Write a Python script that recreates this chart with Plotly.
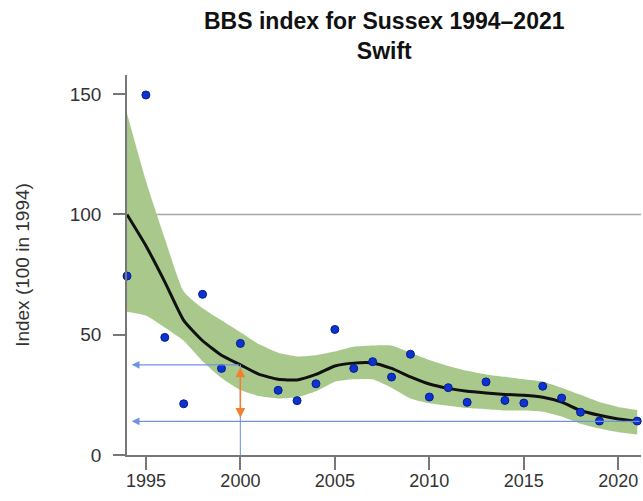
import plotly.graph_objects as go

years = list(range(1994, 2022))

# annual index values (None = no survey)
index_points = [74.4, 149.7, 48.9, 21.3, 66.8, 36.0, 46.4, None, 26.9, 22.6,
                29.6, 52.2, 36.0, 38.8, 32.4, 41.9, 24.1, 28.0, 21.9, 30.4,
                22.7, 21.6, 28.6, 23.7, 17.8, 14.1, None, 14.1]

# smoothed trend
trend = [100, 87, 72, 56, 47.5, 41.5, 37.5, 33.5, 31.5, 31.2,
         33.5, 37, 38.2, 38.3, 36, 32.5, 29.5, 27.7, 26.5, 25.8,
         25.2, 24.8, 24, 22, 18.5, 16.5, 15, 14]

upper = [142, 114, 90, 68, 61, 56, 51, 46, 42.5, 41,
         41.5, 43, 45, 45.5, 45.5, 42.5, 39.5, 37, 35, 33.5,
         32.5, 31.5, 30.5, 28, 25, 22, 20, 18.7]

lower = [59.6, 58, 53, 47.5, 39, 32, 27, 24.5, 23.5, 24,
         26.5, 30.5, 31.5, 31.5, 28, 23.5, 21.5, 20.5, 19.5, 19,
         18.5, 18.5, 18, 16, 13, 11, 9.5, 8.5]

x_ticks = [1995, 2000, 2005, 2010, 2015, 2020]
y_ticks = [0, 50, 100, 150]

ref_year = 2000
t_ref = trend[years.index(ref_year)]
t_last = trend[-1]

FONT = "Liberation Sans, Arial, sans-serif"
X_MIN, X_MAX = 1994, 2021.2
Y_MIN, Y_MAX = 0, 158

fig = go.Figure()

fig.add_trace(go.Scatter(x=years, y=upper, mode="lines",
                         line=dict(width=0, color="#a9c98c", shape="spline", smoothing=0.5),
                         hoverinfo="skip", showlegend=False))
fig.add_trace(go.Scatter(x=years, y=lower, mode="lines", fill="tonexty",
                         fillcolor="#a9c98c",
                         line=dict(width=0, color="#a9c98c", shape="spline", smoothing=0.5),
                         hoverinfo="skip", showlegend=False))
fig.add_trace(go.Scatter(x=years, y=trend, mode="lines",
                         line=dict(width=3, color="#111111", shape="spline", smoothing=0.5),
                         showlegend=False))
fig.add_trace(go.Scatter(x=years, y=index_points, mode="markers", cliponaxis=False,
                         marker=dict(size=8, color="#0b33d1",
                                     line=dict(width=1, color="#0a1c8a")),
                         showlegend=False))

# reference line at 100
fig.add_shape(type="line", xref="paper", x0=0, x1=1, yref="y", y0=100, y1=100,
              line=dict(color="#a8a8a8", width=1.5), layer="below")

# vertical blue line at reference year
fig.add_shape(type="line", xref="x", x0=ref_year, x1=ref_year, yref="y",
              y0=0, y1=t_ref, line=dict(color="#7fa0e6", width=1.2))

# blue horizontal arrows
for yv, xstart in [(t_ref, ref_year), (t_last, X_MAX)]:
    fig.add_annotation(x=X_MIN + 0.25, y=yv, ax=xstart, ay=yv,
                       xref="x", yref="y", axref="x", ayref="y",
                       text="", showarrow=True, arrowhead=2, arrowsize=1.3,
                       arrowwidth=1.2, arrowcolor="#6f93e3")

# orange double arrow
fig.add_annotation(x=ref_year, y=t_last + 1.5, ax=ref_year, ay=t_ref - 0.5,
                   xref="x", yref="y", axref="x", ayref="y",
                   text="", showarrow=True, arrowhead=2, startarrowhead=2,
                   arrowside="end+start", arrowsize=1.3, startarrowsize=1.3,
                   arrowwidth=1.5, arrowcolor="#f28030")

# title
fig.add_annotation(text="<b>BBS index for Sussex 1994–2021<br>Swift</b>",
                   xref="paper", yref="paper", x=0.5, y=1 + 69 / 380,
                   xanchor="center", yanchor="top", showarrow=False,
                   font=dict(size=23, color="#111111", family=FONT))

fig.update_layout(
    width=643, height=501,
    margin=dict(l=127, r=2, t=75, b=46, autoexpand=False),
    paper_bgcolor="white", plot_bgcolor="white",
    font=dict(family=FONT, color="#333333"),
    xaxis=dict(range=[X_MIN, X_MAX], tickvals=x_ticks, ticks="outside",
               ticklen=13, tickwidth=1.5, tickcolor="#777777",
               showline=True, linecolor="#777777", linewidth=1.5,
               showgrid=False, zeroline=False, automargin=False,
               ticklabelstandoff=-4,
               tickfont=dict(size=18, color="#333333")),
    yaxis=dict(range=[Y_MIN, Y_MAX], tickvals=y_ticks, ticks="outside",
               ticklen=12, tickwidth=1.5, tickcolor="#777777",
               showline=True, linecolor="#777777", linewidth=1.5,
               showgrid=False, zeroline=False, automargin=False,
               ticklabelstandoff=8,
               tickfont=dict(size=19, color="#333333"),
               title=dict(text="Index (100 in 1994)", standoff=35,
                          font=dict(size=19, color="#333333"))),
)

fig.write_html("out.html", config={"displayModeBar": False},
               post_script="document.body.style.margin='0px';document.body.style.overflow='hidden';")
